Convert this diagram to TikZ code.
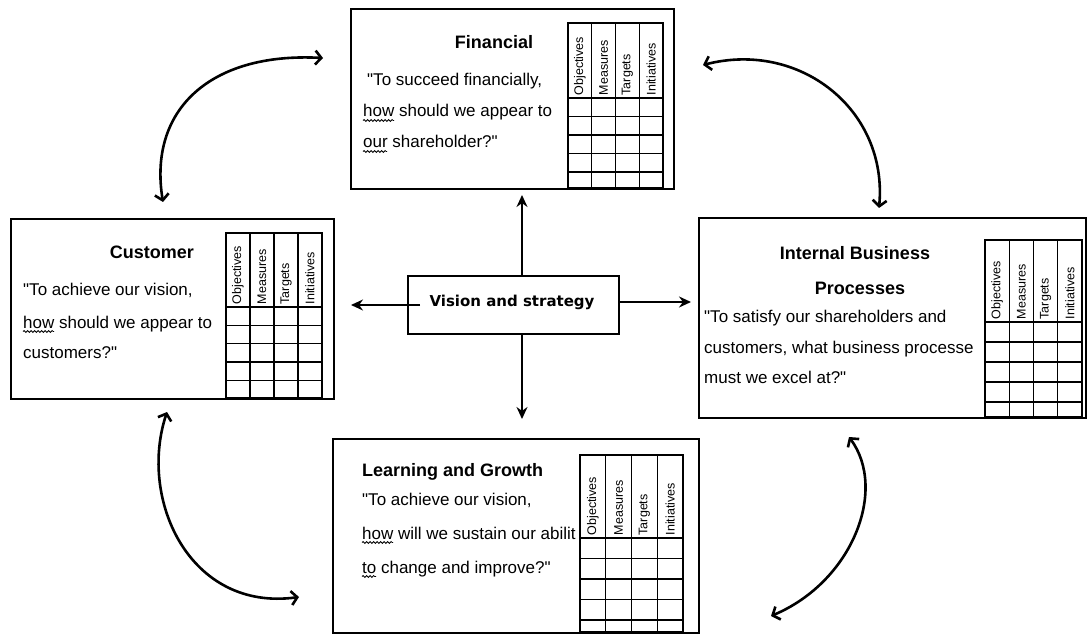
\documentclass[tikz,border=0pt]{standalone}
\usepackage{fontspec}
\setmainfont{Liberation Sans}
\newfontfamily\plainfont{Liberation Sans}
\newfontfamily\visfont{DejaVu Sans}
\usetikzlibrary{arrows.meta,calc,decorations.pathmorphing}

\newcommand{\dq}{{\plainfont\symbol{34}}}
% measure table inside a perspective box
% #1 name, #2 left, #3 top, #4 column width, #5 header height, #6 row height, #7 last row index, #8 bottom
\newcommand{\bsctable}[8]{%
  \draw[grid] (#2,#3) rectangle ({#2+4*#4},#8);
  \foreach \i in {1,2,3}
    \draw[grid] ({#2+\i*#4},#3) -- ({#2+\i*#4},#8);
  \foreach \k in {0,...,#7}
    \draw[grid] (#2,{#3+#5+\k*#6}) -- ({#2+4*#4},{#3+#5+\k*#6});
  \foreach \lbl [count=\c] in {Objectives,Measures,Targets,Initiatives}
    \node[colhead] (#1-h\c) at ({#2+(\c-0.5)*#4},{#3+#5-2.5}) {\lbl};
}
% spell-check squiggle under the first word of a line
\newcommand{\squig}[2]{\draw[squiggle] ([yshift=-3.5pt]#1.base west) -- ++(#2,0);}

\begin{document}
\begin{tikzpicture}[x=1pt,y=-1pt,
  card/.style={draw,line width=1.6pt,anchor=north west,inner sep=0pt},
  grid/.style={line width=1.4pt},
  colhead/.style={rotate=90,anchor=west,inner sep=0pt,font=\fontsize{12.5}{12.5}\selectfont},
  heading/.style={inner sep=0pt,font=\fontsize{18}{20}\selectfont\bfseries},
  quote/.style={anchor=base west,inner sep=0pt,font=\fontsize{17}{19}\selectfont},
  squiggle/.style={line width=0.8pt,decorate,decoration={snake,amplitude=1pt,segment length=3.5pt}},
  spoke/.style={line width=1.5pt,-{Stealth[length=12pt,width=11pt]}},
  cycarrow/.style={line width=2.6pt,{Straight Barb[length=6pt,width=14pt]}-{Straight Barb[length=6pt,width=14pt]}}]
  \useasboundingbox (0,0) rectangle (1087,636);

  % the four perspectives
  \node[card,minimum width=323pt,minimum height=180pt] (fin) at (350,8) {};
  \node[card,minimum width=323pt,minimum height=180pt] (cus) at (10,218) {};
  \node[card,minimum width=387pt,minimum height=200pt] (int) at (698,217) {};
  \node[card,minimum width=366pt,minimum height=194pt] (lrn) at (332,438) {};

  \bsctable{fin}{568}{23}{23.75}{75}{18.5}{4}{188}
  \bsctable{cus}{226}{233}{24}{74}{18.3}{4}{398}
  \bsctable{int}{985}{240}{24.25}{82}{20}{4}{417}
  \bsctable{lrn}{580}{455}{25.75}{83}{20.5}{4}{632}

  % Financial
  \node[heading] (fin-t) at (494,42) {Financial};
  \node[quote] (fin-q1) at (367,86) {\dq To succeed financially,};
  \node[quote] (fin-q2) at (363,117) {how should we appear to};
  \node[quote] (fin-q3) at (363,148) {our shareholder?\dq};
  \squig{fin-q2}{31}
  \squig{fin-q3}{24}

  % Customer
  \node[heading] (cus-t) at (152,252) {Customer};
  \node[quote] (cus-q1) at (23,296) {\dq To achieve our vision,};
  \node[quote] (cus-q2) at (23,328) {how should we appear to};
  \node[quote] (cus-q3) at (23,358) {customers?\dq};
  \squig{cus-q2}{31}

  % Internal Business Processes
  \node[heading] (int-t1) at (855,253) {Internal Business};
  \node[heading] (int-t2) at (860,288) {Processes};
  \node[quote] (int-q1) at (704,323) {\dq To satisfy our shareholders and};
  \node[quote] (int-q2) at (704,353) {customers, what business processe};
  \node[quote] (int-q3) at (704,383) {must we excel at?\dq};

  % Learning and Growth
  \node[heading,anchor=west] (lrn-t) at (362,472) {Learning and Growth};
  \node[quote] (lrn-q1) at (362,505) {\dq To achieve our vision,};
  \node[quote] (lrn-q2) at (362,539) {how will we sustain our abilit};
  \node[quote] (lrn-q3) at (362,573) {to change and improve?\dq};
  \squig{lrn-q2}{31}
  \squig{lrn-q3}{14}

  % centre
  \node[card,minimum width=211pt,minimum height=58pt] (vis) at (407,275) {};
  \node[inner sep=0pt,font=\visfont\fontsize{15}{17}\selectfont\bfseries] (vis-t) at (512,302) {Vision and strategy};

  \coordinate (upend) at (522,195);
  \coordinate (downend) at (522,419);
  \coordinate (leftend) at (351,305);
  \coordinate (rightend) at (691,302);
  \draw[spoke] (vis.north -| upend) -- (upend);
  \draw[spoke] (vis.south -| downend) -- (downend);
  \draw[spoke] ([xshift=13pt]vis.west |- leftend) -- (leftend);
  \draw[spoke] (vis.east |- rightend) -- (rightend);

  % cause and effect loops
  \coordinate (tl-a) at (163,202);
  \coordinate (tl-b) at (323,58);
  \coordinate (tr-a) at (703,65);
  \coordinate (tr-b) at (879,208);
  \coordinate (bl-a) at (167,412);
  \coordinate (bl-b) at (299,597);
  \coordinate (br-a) at (849,437);
  \coordinate (br-b) at (771,616);
  \draw[cycarrow] (tl-a) .. controls (148,110) and (210,52) .. (tl-b);
  \draw[cycarrow] (tr-a) .. controls (800,40) and (888,110) .. (tr-b);
  \draw[cycarrow] (bl-a) .. controls (138,500) and (190,612) .. (bl-b);
  \draw[cycarrow] (br-a) .. controls (888,490) and (852,582) .. (br-b);
\end{tikzpicture}
\end{document}
